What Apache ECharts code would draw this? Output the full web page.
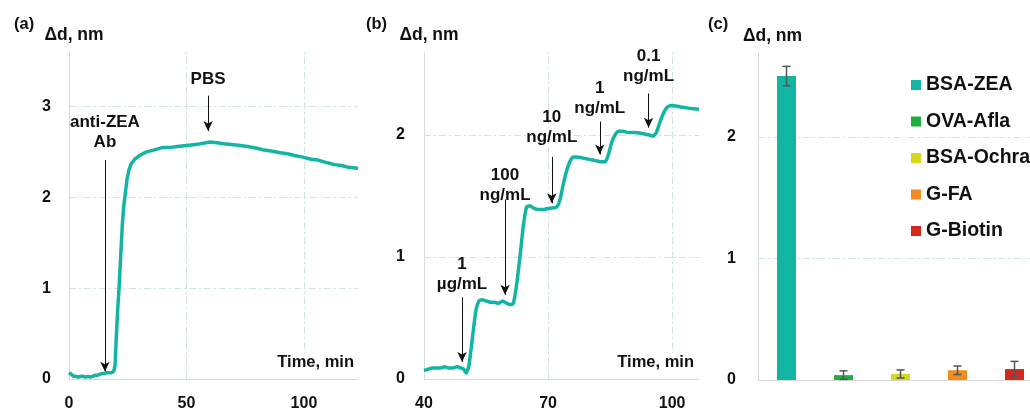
<!DOCTYPE html>
<html>
<head>
<meta charset="utf-8">
<script src="https://cdn.jsdelivr.net/npm/echarts@6/dist/echarts.min.js"></script>
<style>
html,body{margin:0;padding:0;background:#fff;}
#chart{width:1030px;height:412px;}
</style>
</head>
<body>
<div id="chart"></div>
<script>
// ---------- Panel (a): binding of anti-ZEA Ab ----------
const timeA = [0,1,2,3,4,5,6,7,8,9,10,11,12,13,14,15,16,17,18,19,19.6,20.2,20.8,21.3,22,22.7,23.3,24,24.7,25.5,26.5,28,30,33,36,40,43,46,50,53,56,60,63,66,70,73,76,80,83,86,90,93,96,100,103,106,110,113,116,119,123];
const valueA = [0.07,0.05,0.03,0.03,0.02,0.03,0.03,0.02,0.03,0.02,0.03,0.04,0.04,0.05,0.06,0.06,0.07,0.07,0.07,0.08,0.15,0.5,0.8,1.0,1.35,1.7,1.9,2.05,2.2,2.3,2.37,2.42,2.46,2.5,2.52,2.55,2.55,2.56,2.57,2.58,2.59,2.61,2.6,2.59,2.58,2.57,2.56,2.54,2.52,2.51,2.49,2.48,2.46,2.44,2.42,2.41,2.38,2.36,2.35,2.33,2.32];

// ---------- Panel (b): titration steps ----------
const timeB = [40,41,42,43,44,45,46,47,48,49,49.6,50.2,50.8,51.4,52,52.6,53.3,54,55,56,57,58,59,60,61,61.6,62.3,63.2,64,64.8,65.6,66.5,67.5,69,70.5,72.1,72.9,73.7,74.6,75.4,76.1,77,78.5,80,81.5,82.7,83.8,84.6,85.4,86.2,87,88,89.5,91,93,94.5,95.3,96.2,97,97.8,98.6,99.5,100.5,102,104,106.5];
const valueB = [0.07,0.08,0.09,0.09,0.09,0.1,0.09,0.09,0.1,0.09,0.08,0.05,0.1,0.25,0.42,0.57,0.64,0.65,0.64,0.63,0.63,0.62,0.64,0.62,0.61,0.62,0.75,1.0,1.25,1.41,1.42,1.4,1.39,1.39,1.4,1.41,1.47,1.6,1.72,1.79,1.82,1.82,1.81,1.8,1.79,1.78,1.78,1.84,1.94,2.0,2.03,2.03,2.02,2.02,2.01,2.0,1.99,2.02,2.1,2.17,2.22,2.24,2.24,2.23,2.22,2.21];

// ---------- Panel (c): specificity ----------
const categoriesC = ['BSA-ZEA','OVA-Afla','BSA-Ochra','G-FA','G-Biotin'];
const valuesC = [2.50,0.04,0.05,0.08,0.09];
const errorsC = [0.08,0.035,0.033,0.035,0.063];
const colorsC = ['#12b5a3','#1fae3f','#d6d81c','#f28c1e','#d5281d'];

// ---------- annotations ----------
const annotA = [
  {text:'anti-ZEA\nAb', t:15.3, y:2.72, from:2.41, to:0.08},
  {text:'PBS', t:59.2, y:3.30, from:3.12, to:2.73}
];
const annotB = [
  {text:'1\nµg/mL', t:49.2, y:0.86, from:0.67, to:0.14},
  {text:'100\nng/mL', t:59.6, y:1.59, from:1.47, to:0.69},
  {text:'10\nng/mL', t:70.9, y:2.06, from:1.82, to:1.44},
  {text:'1\nng/mL', t:82.5, y:2.30, from:2.11, to:1.84},
  {text:'0.1\nng/mL', t:94.3, y:2.56, from:2.34, to:2.06}
];

const FONT = '"Liberation Sans",Arial,sans-serif';
const TEAL = '#12b5a3';
const GRIDC = '#cfe5d8';
const AXC = '#d9d9d9';
const gridStyle = {color:GRIDC, width:1, type:[7,3,2,3]};

function gridLines(ys, xs){
  const d = [];
  ys.forEach(v=>d.push({yAxis:v, lineStyle:gridStyle}));
  xs.forEach(v=>d.push({xAxis:v, lineStyle:gridStyle}));
  return d;
}
function arrows(list){
  return list.map(a=>[
    {coord:[a.t,a.from], symbol:'none', lineStyle:{color:'#111', width:1, type:'solid'}},
    {coord:[a.t,a.to], symbol:'arrow', symbolSize:[7,10]}
  ]);
}
function labels(list){
  return list.map(a=>({name:a.text, coord:[a.t,a.y]}));
}
const tickLabel = {color:'#111', fontSize:16, fontWeight:'bold', fontFamily:FONT};
const nameStyle = {color:'#111', fontSize:16.5, fontWeight:'bold', fontFamily:FONT};
const yNameStyle = {color:'#111', fontSize:17.5, fontWeight:'bold', fontFamily:FONT};

function xAx(gi, min, max, interval, gap){
  return {type:'value', gridIndex:gi, min:min, max:max, interval:interval, z:10,
    axisLine:{show:true, lineStyle:{color:AXC}}, axisTick:{show:false}, splitLine:{show:false},
    axisLabel:Object.assign({showMaxLabel:false, margin:17}, tickLabel),
    name:'Time, min', nameLocation:'end', nameGap:gap,
    nameTextStyle:Object.assign({align:'right', verticalAlign:'bottom', padding:[1,1,8,2], backgroundColor:'#fff'}, nameStyle)};
}
function yAx(gi, max, margin, pad){
  return {type:'value', gridIndex:gi, min:0, max:max, interval:1,
    axisLine:{show:true, lineStyle:{color:AXC}}, axisTick:{show:false}, splitLine:{show:false},
    axisLabel:Object.assign({showMaxLabel:false, margin:margin}, tickLabel),
    name:'Δd, nm', nameLocation:'end', nameGap:17,
    nameTextStyle:Object.assign({align:'center', verticalAlign:'middle', padding:[0,0,0,pad]}, yNameStyle)};
}

const markLabelCfg = {show:true, position:'inside', formatter:'{b}', color:'#111', fontSize:17, lineHeight:20, fontWeight:'bold', fontFamily:FONT};

const chart = echarts.init(document.getElementById('chart'), null, {renderer:'canvas'});
const option = {
  animation:false,
  backgroundColor:'#fff',
  title:[
    {text:'(a)', left:9, top:11, textStyle:nameStyle},
    {text:'(b)', left:361, top:11, textStyle:nameStyle},
    {text:'(c)', left:703, top:11, textStyle:nameStyle}
  ],
  grid:[
    {left:69, top:52, width:289, height:327, outerBoundsMode:'none', containLabel:false},
    {left:424, top:52, width:275, height:327, outerBoundsMode:'none', containLabel:false},
    {left:758, top:53, width:285, height:327, outerBoundsMode:'none', containLabel:false}
  ],
  xAxis:[
    xAx(0, 0, 123, 50, -3),
    xAx(1, 40, 106.5, 30, -4),
    {type:'category', gridIndex:2, data:categoriesC,
     axisLine:{show:true, lineStyle:{color:AXC}}, axisTick:{show:false}, axisLabel:{show:false}, splitLine:{show:false}}
  ],
  yAxis:[
    yAx(0, 3.6, 18, 10),
    yAx(1, 2.68, 19, 10),
    yAx(2, 2.69, 22, 29)
  ],
  legend:{
    orient:'vertical', left:906, top:70, itemWidth:10, itemHeight:10, itemGap:16.5,
    icon:'rect', data:categoriesC,
    textStyle:{color:'#111', fontSize:19.5, lineHeight:20, fontWeight:'bold', fontFamily:FONT}
  },
  series:[
    {type:'line', xAxisIndex:0, yAxisIndex:0, showSymbol:false, symbol:'none',
     data:timeA.map((t,i)=>[t,valueA[i]]), lineStyle:{color:TEAL, width:3.5}, itemStyle:{color:TEAL}, z:5,
     markLine:{silent:true, symbol:['none','none'], label:{show:false}, data:gridLines([1,2,3],[50,100]).concat(arrows(annotA)), z:1},
     markPoint:{silent:true, symbol:'circle', symbolSize:0, itemStyle:{color:'rgba(0,0,0,0)'}, label:markLabelCfg, data:labels(annotA)}
    },
    {type:'line', xAxisIndex:1, yAxisIndex:1, showSymbol:false, symbol:'none', smooth:0.2,
     data:timeB.map((t,i)=>[t,valueB[i]]), lineStyle:{color:TEAL, width:3.5}, itemStyle:{color:TEAL}, z:5,
     markLine:{silent:true, symbol:['none','none'], label:{show:false}, data:gridLines([1,2],[70,100]).concat(arrows(annotB)), z:1},
     markPoint:{silent:true, symbol:'circle', symbolSize:0, itemStyle:{color:'rgba(0,0,0,0)'}, label:markLabelCfg, data:labels(annotB)}
    }
  ].concat(categoriesC.map((c,i)=>({
    name:c, type:'bar', xAxisIndex:2, yAxisIndex:2, barWidth:19, barGap:'-100%',
    itemStyle:{color:colorsC[i]},
    data:valuesC.map((v,j)=>j===i?v:'-'),
    markLine: i===0 ? {silent:true, symbol:['none','none'], label:{show:false}, data:gridLines([1,2],[]), z:1} : undefined
  }))).concat([{
    type:'custom', xAxisIndex:2, yAxisIndex:2, z:10, silent:true,
    data:valuesC.map((v,i)=>[i, v-errorsC[i], v+errorsC[i]]),
    renderItem:function(params, api){
      const lo = api.coord([api.value(0), api.value(1)]);
      const hi = api.coord([api.value(0), api.value(2)]);
      const w = 4;
      const st = {stroke:'#555', lineWidth:1.5};
      return {type:'group', children:[
        {type:'line', shape:{x1:lo[0], y1:lo[1], x2:hi[0], y2:hi[1]}, style:st},
        {type:'line', shape:{x1:lo[0]-w, y1:lo[1], x2:lo[0]+w, y2:lo[1]}, style:st},
        {type:'line', shape:{x1:hi[0]-w, y1:hi[1], x2:hi[0]+w, y2:hi[1]}, style:st}
      ]};
    }
  }])
};
chart.setOption(option);
</script>
</body>
</html>
